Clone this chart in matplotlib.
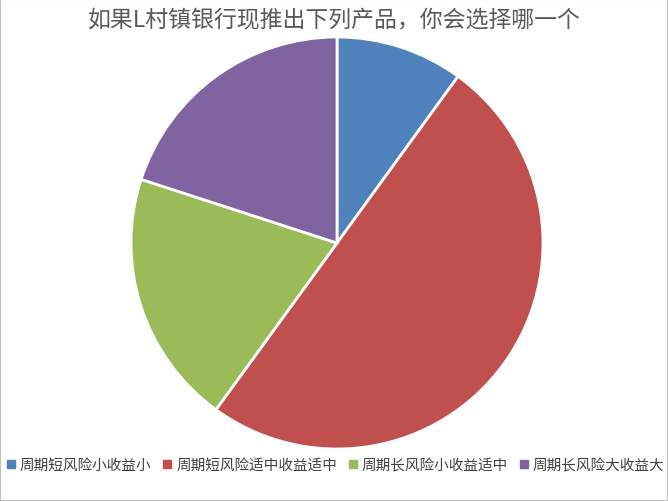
import matplotlib.pyplot as plt
from matplotlib.lines import Line2D
from matplotlib.patches import Rectangle

plt.rcParams['font.family'] = ['Noto Sans CJK SC', 'DejaVu Sans']

labels = ['周期短风险小收益小', '周期短风险适中收益适中', '周期长风险小收益适中', '周期长风险大收益大']
values = [10, 50, 20, 20]
colors = ['#4F81BD', '#C0504D', '#9BBB59', '#8064A2']
title = '如果L村镇银行现推出下列产品，你会选择哪一个'

fig = plt.figure(figsize=(6.68, 5.02), dpi=100)
ax = fig.add_axes([131 / 668, 52 / 502, 412 / 668, 412 / 502])
ax.pie(values, colors=colors, startangle=90, counterclock=False, radius=1,
       wedgeprops=dict(edgecolor='white', linewidth=2))
ax.set_xlim(-1.0, 1.0)
ax.set_ylim(-1.0, 1.0)
ax.set_aspect('equal')
ax.axis('off')

fig.text(0.5, 1 - 21 / 502, title, ha='center', va='center', fontsize=16.5, color='#595959')

handles = [Line2D([], [], marker='s', linestyle='', markersize=6, color=c) for c in colors]
fig.legend(handles, labels, loc='center', bbox_to_anchor=(0.5, 1 - 466 / 502), ncol=4,
           frameon=False, fontsize=10.5, handletextpad=0.1, columnspacing=0.6,
           handlelength=1.0, labelcolor='#404040')

fig.patches.append(Rectangle((0, 0), 1, 1, transform=fig.transFigure, fill=False,
                             edgecolor='#BFBFBF', linewidth=1.5))

fig.savefig('out.png', dpi=100)
